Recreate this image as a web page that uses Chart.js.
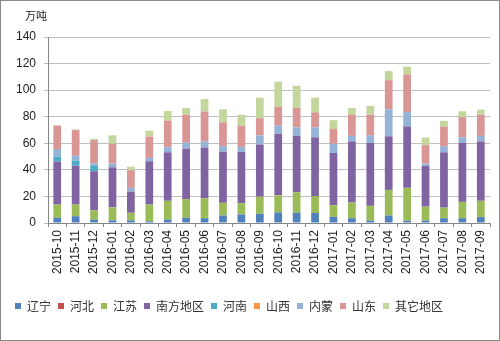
<!DOCTYPE html>
<html lang="zh">
<head>
  <meta charset="UTF-8" />
  <title>分地区产量</title>
  <script src="https://cdn.jsdelivr.net/npm/chart.js"></script>
  <style>
    body {
      margin: 0;
      background: #fff;
    }
    .frame {
      width: 500px;
      height: 341px;
      box-sizing: border-box;
      border: 1px solid #8a8a8a;
      background: #fff;
    }
  </style>
</head>
<body>
<div class="frame"><canvas id="c"></canvas></div>

<script>
  const months = ["2015-10","2015-11","2015-12","2016-01","2016-02","2016-03","2016-04","2016-05",
    "2016-06","2016-07","2016-08","2016-09","2016-10","2016-11","2016-12","2017-01",
    "2017-02","2017-03","2017-04","2017-05","2017-06","2017-07","2017-08","2017-09"];

  // 万吨
  const liaoning  = [3.9,5.1,2.6,2.0,2.0,1.3,2.6,3.9,3.6,5.7,6.4,6.9,8.0,7.7,7.5,4.6,3.6,1.8,5.7,1.8,1.8,3.6,3.6,4.4];
  const hebei     = [0,0,0,0,0,0,0,0,0,0,0,0,0,0,0,0,0,0,0,0,0,0,0,0];
  const jiangsu   = [10.0,8.8,6.9,9.8,5.7,12.6,14.1,14.1,14.9,9.5,8.5,12.9,12.8,15.4,12.8,8.8,11.8,11.1,19.2,24.7,10.5,8.0,12.3,12.3];
  const south     = [32.3,29.3,29.5,30.1,15.9,32.6,36.5,38.0,38.3,38.5,38.6,39.3,46.3,42.7,44.2,39.3,46.0,47.3,40.4,46.2,30.6,41.6,44.3,44.7];
  const henan     = [3.8,3.8,3.9,0,0,0,0,0,0,0,0,0,0,0,0,0,0,0,0,0,0,0,0,0];
  const shanxi    = [0,0,0,0,0,0,0,0,0,0,0,0,0,0,0,0,0,0,0,0,0,0,0,0];
  const neimeng   = [5.7,3.6,2.1,2.8,2.9,2.5,3.8,4.4,4.6,4.1,3.8,6.9,6.2,6.2,7.5,6.9,4.2,5.8,20.3,10.8,1.8,4.6,4.3,4.2];
  const shandong  = [17.5,19.3,17.4,14.9,13.3,16.0,20.1,21.1,22.6,18.0,16.0,12.9,14.1,14.6,11.3,11.1,15.9,15.5,21.9,28.3,13.9,14.7,15.2,15.9];
  const others    = [0.5,0.5,1.0,6.4,2.6,4.4,7.2,5.1,9.3,9.8,8.2,15.4,19.0,16.7,11.0,6.7,5.1,6.7,6.9,5.9,5.7,4.4,4.4,3.8];

  const yTicks = [0, 20, 40, 60, 80, 100, 120, 140];

  const seriesNames  = ["辽宁","河北","江苏","南方地区","河南","山西","内蒙","山东","其它地区"];
  const seriesData   = [liaoning, hebei, jiangsu, south, henan, shanxi, neimeng, shandong, others];
  const seriesColors = ["#4f81bd","#c0504d","#9bbb59","#8064a2","#4bacc6","#f79646","#95b3d7","#d99694","#c3d69b"];

  // unit text above the value axis
  const unitLabel = {
    id: "unitLabel",
    afterDraw(chart) {
      const ctx = chart.ctx;
      const area = chart.chartArea;
      ctx.save();
      ctx.font = "11px 'Noto Sans CJK SC'";
      ctx.fillStyle = "#222";
      ctx.textAlign = "left";
      ctx.textBaseline = "middle";
      ctx.fillText("万吨", area.left - 23, area.top - 21);
      ctx.restore();
    }
  };

  new Chart(document.getElementById("c"), {
    type: "bar",
    data: {
      labels: months,
      datasets: seriesNames.map((name, i) => ({
        label: name,
        data: seriesData[i],
        backgroundColor: seriesColors[i],
        borderWidth: 0,
        barPercentage: 0.42,
        categoryPercentage: 1
      }))
    },
    options: {
      responsive: true,
      maintainAspectRatio: false,
      animation: false,
      layout: { padding: { left: 7, right: 9, top: 36, bottom: 18 } },
      plugins: {
        legend: {
          position: "bottom",
          align: "start",
          labels: {
            boxWidth: 6,
            boxHeight: 6,
            padding: 7,
            color: "#333",
            font: { family: "'Noto Sans CJK SC'", size: 12 }
          }
        },
        tooltip: { enabled: false }
      },
      scales: {
        x: {
          stacked: true,
          grid: { display: true, drawOnChartArea: false, tickLength: 4, color: "#868686" },
          border: { color: "#868686" },
          ticks: {
            minRotation: 90,
            maxRotation: 90,
            padding: 3,
            color: "#222",
            font: { family: "'Liberation Sans', Arial", size: 12 }
          },
          afterFit(scale) { scale.height = 70; }
        },
        y: {
          stacked: true,
          min: 0,
          max: 140,
          afterBuildTicks(scale) { scale.ticks = yTicks.map(v => ({ value: v })); },
          grid: { color: "#bfbfbf", tickLength: 4 },
          border: { color: "#868686" },
          ticks: {
            padding: 8,
            color: "#222",
            font: { family: "'Liberation Sans', Arial", size: 12 }
          }
        }
      }
    },
    plugins: [unitLabel]
  });
</script>
</body>
</html>
